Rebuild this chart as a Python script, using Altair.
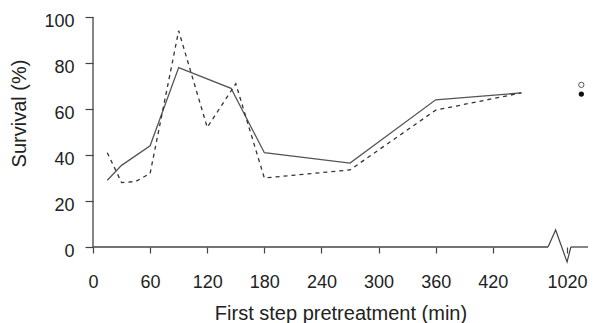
import altair as alt
import pandas as pd

# Solid curve (minutes, survival %)
solid_t = [15, 30, 60, 90, 145, 180, 270, 360, 450]
solid_v = [29, 35.5, 44, 78, 69, 41, 36.5, 64, 67]
# Dashed curve
dash_t = [15, 30, 45, 60, 90, 120, 150, 180, 270, 360, 450]
dash_v = [41, 28, 28.5, 32, 94, 52, 71, 30, 33.5, 59.5, 67]
# 1020-min group, drawn after the axis break
late_pos = [513]
late_open = [70.5]
late_filled = [66.5]
# axis ticks (498 stands for the 1020 label after the break)
tick_values = list(range(0, 451, 30)) + [498]
y_ticks = [0, 20, 40, 60, 80, 100]
# axis-break zigzag
break_x = [478, 486, 498, 502]
break_y = [0, 7.4, -6.5, 0]
# axis line segments (x axis is interrupted by the break)
xaxis_start = [0, 502]
xaxis_end = [478, 520]
y_end = 100

solid_df = pd.DataFrame({"t": solid_t, "v": solid_v})
dash_df = pd.DataFrame({"t": dash_t, "v": dash_v})
open_df = pd.DataFrame({"t": late_pos, "v": late_open})
fill_df = pd.DataFrame({"t": late_pos, "v": late_filled})
break_df = pd.DataFrame({"t": break_x, "v": break_y})
xaxis_df = pd.DataFrame({"t": xaxis_start, "t2": xaxis_end, "v": [0, 0]})
yaxis_df = pd.DataFrame({"t": [0], "v": [0], "v2": [y_end]})

FONT = "Liberation Sans"
AX = "#444"

x_scale = alt.Scale(domain=[0, 520], nice=False, zero=False)
y_scale = alt.Scale(domain=[0, y_end], nice=False)

x_enc = alt.X(
    "t:Q",
    scale=x_scale,
    axis=alt.Axis(
        values=tick_values,
        format="d",
        labelExpr="datum.value == 498 ? '1020' : (datum.value % 60 == 0 ? datum.label : '')",
        domain=False,
        tickSize=6,
        tickWidth=1.2,
        labelPadding=20,
        labelFontSize=18,
        labelFont=FONT,
        labelColor="#222",
        labelFlush=False,
        labelOverlap=False,
        title="First step pretreatment (min)",
        titleFont=FONT,
        titleFontSize=20,
        titleFontWeight="normal",
        titleColor="#222",
        titleY=66,
        titleBaseline="middle",
        grid=False,
        tickColor=AX,
    ),
)
y_enc = alt.Y(
    "v:Q",
    scale=y_scale,
    axis=alt.Axis(
        values=y_ticks,
        domain=False,
        tickSize=8,
        tickWidth=1.2,
        labelPadding=11,
        labelOffset=4,
        labelFontSize=18,
        labelFont=FONT,
        labelColor="#222",
        labelFlush=False,
        title="Survival (%)",
        titleFont=FONT,
        titleFontSize=20,
        titleFontWeight="normal",
        titleColor="#222",
        titleX=-74,
        titleY=96,
        titleAngle=270,
        titleAlign="center",
        titleBaseline="middle",
        grid=False,
        tickColor=AX,
    ),
)

xline = alt.Chart(xaxis_df).mark_rule(color=AX, strokeWidth=1.3).encode(
    x=alt.X("t:Q", scale=x_scale), x2="t2:Q", y=alt.Y("v:Q", scale=y_scale))
yline = alt.Chart(yaxis_df).mark_rule(color=AX, strokeWidth=1.3).encode(
    x=alt.X("t:Q", scale=x_scale), y=alt.Y("v:Q", scale=y_scale), y2="v2:Q")
solid = alt.Chart(solid_df).mark_line(color="#555", strokeWidth=1.3).encode(x=x_enc, y=y_enc)
dashed = alt.Chart(dash_df).mark_line(color="#333", strokeWidth=1.3, strokeDash=[4, 4]).encode(x=x_enc, y=y_enc)
open_pt = alt.Chart(open_df).mark_point(filled=False, color="#111", strokeWidth=1, size=28).encode(x=x_enc, y=y_enc)
fill_pt = alt.Chart(fill_df).mark_circle(color="#111", size=28, opacity=1).encode(x=x_enc, y=y_enc)
zig = alt.Chart(break_df).mark_line(color=AX, strokeWidth=1.2).encode(x=x_enc, y=y_enc)

chart = (
    alt.layer(solid, dashed, open_pt, fill_pt, zig, xline, yline)
    .properties(
        width=495,
        height=230,
        autosize=alt.AutoSizeParams(type="none"),
        padding={"left": 85, "top": 9, "right": 0, "bottom": 76},
        background="white",
    )
    .configure_view(stroke=None)
)

chart.save("out.html", embed_options={"renderer": "svg", "actions": False})
